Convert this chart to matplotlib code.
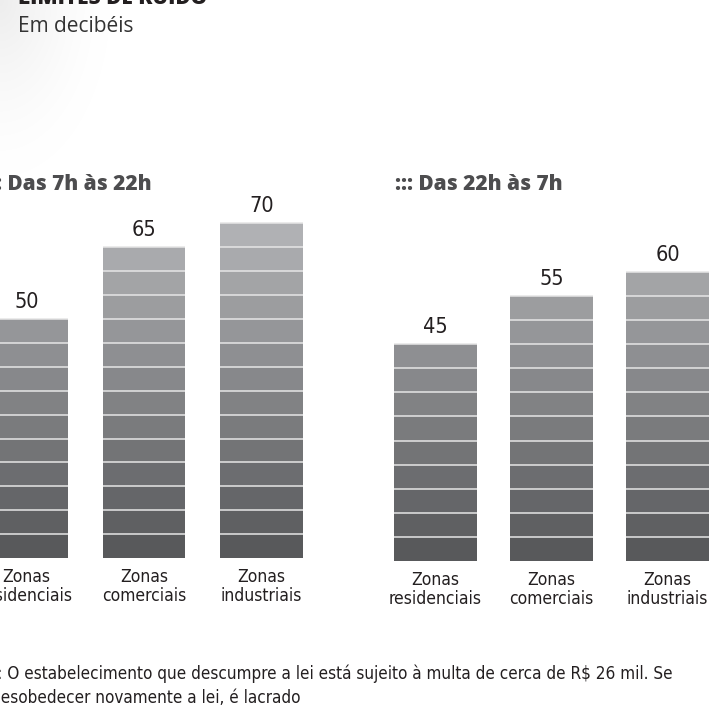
import numpy as np
import matplotlib
matplotlib.use('Agg')
import matplotlib.pyplot as plt
from matplotlib.colors import LinearSegmentedColormap

categories = ["Zonas\nresidenciais", "Zonas\ncomerciais", "Zonas\nindustriais"]
day_values = [50, 65, 70]
night_values = [45, 55, 60]
panel_titles = ["::: Das 7h às 22h", "::: Das 22h às 7h"]
title = "LIMITES DE RUÍDO"
subtitle = "Em decibéis"
note_1 = "::: O estabelecimento que descumpre a lei está sujeito à multa de cerca de R$ 26 mil. Se"
note_2 = "desobedecer novamente a lei, é lacrado"

STEP = 5
W, H = 710, 716
NARROW = dict(family="DejaVu Sans", fontstretch="condensed")
BOLD = dict(family=["Open Sans", "DejaVu Sans"], fontweight="heavy")
seg_cmap = LinearSegmentedColormap.from_list("seg", ["#58595b", "#b0b1b4"])


def fx(px):
    return px / W


def fy(py):
    return 1 - py / H


fig = plt.figure(figsize=(W / 100, H / 100), dpi=100)
fig.patch.set_facecolor("white")

# faint shadow in the top-left corner
bg = fig.add_axes([0, 0, 1, 1], zorder=-5)
yy, xx = np.mgrid[0:H, 0:W]
dist = np.sqrt(xx ** 2 + (yy / 1.6) ** 2)
shade = 1 - 0.07 * np.clip(1 - dist / 110, 0, 1) ** 1.5
bg.imshow(np.dstack([shade] * 3), extent=(0, W, H, 0), aspect="auto")
bg.set_xlim(0, W)
bg.set_ylim(H, 0)
bg.axis("off")


def draw_panel(rect, values, width, px_per_db):
    ax = fig.add_axes(rect)
    ax.set_xlim(-0.5, 2.5)
    ax.set_ylim(0, 80)
    ax.axis("off")
    x = np.arange(len(values))
    for xi, v in zip(x, values):
        n = v // STEP
        for k in range(n):
            ax.bar(xi, STEP, bottom=k * STEP, width=width,
                   color=seg_cmap(k / 13), linewidth=0)
        ax.hlines([k * STEP for k in range(1, n + 1)], xi - width / 2, xi + width / 2,
                  color="#e6e6e6", linewidth=1.1)
        ax.text(xi, v + 11 / px_per_db, str(v), ha="center", va="baseline",
                fontsize=15.5, color="#231f20", **NARROW)
        ax.text(xi, -10 / px_per_db, categories[xi], ha="center", va="top",
                fontsize=12.5, color="#231f20", linespacing=1.08, **NARROW)
    return ax


left = draw_panel([fx(-32.25), fy(558), fx(352.5), 382.4 / H], day_values, 0.706, 4.78)
right = draw_panel([fx(377.5), fy(561), fx(348), 385.6 / H], night_values, 0.716, 4.82)

fig.text(fx(-16), fy(190), panel_titles[0], ha="left", va="baseline",
         fontsize=15, color="#4d4d4f", **BOLD)
fig.text(fx(395), fy(190), panel_titles[1], ha="left", va="baseline",
         fontsize=15, color="#4d4d4f", **BOLD)

fig.text(fx(18), fy(4), title, ha="left", va="baseline", fontsize=15,
         color="#231f20", **BOLD)
fig.text(fx(18), fy(32), subtitle, ha="left", va="baseline", fontsize=15,
         family=["Open Sans", "DejaVu Sans"], color="#333333")

fig.text(fx(-13), fy(679), note_1, ha="left", va="baseline", fontsize=12.25,
         color="#231f20", **NARROW)
fig.text(fx(-9), fy(703), note_2, ha="left", va="baseline", fontsize=12.25,
         color="#231f20", **NARROW)

fig.savefig("out.png", dpi=100, facecolor="white")
